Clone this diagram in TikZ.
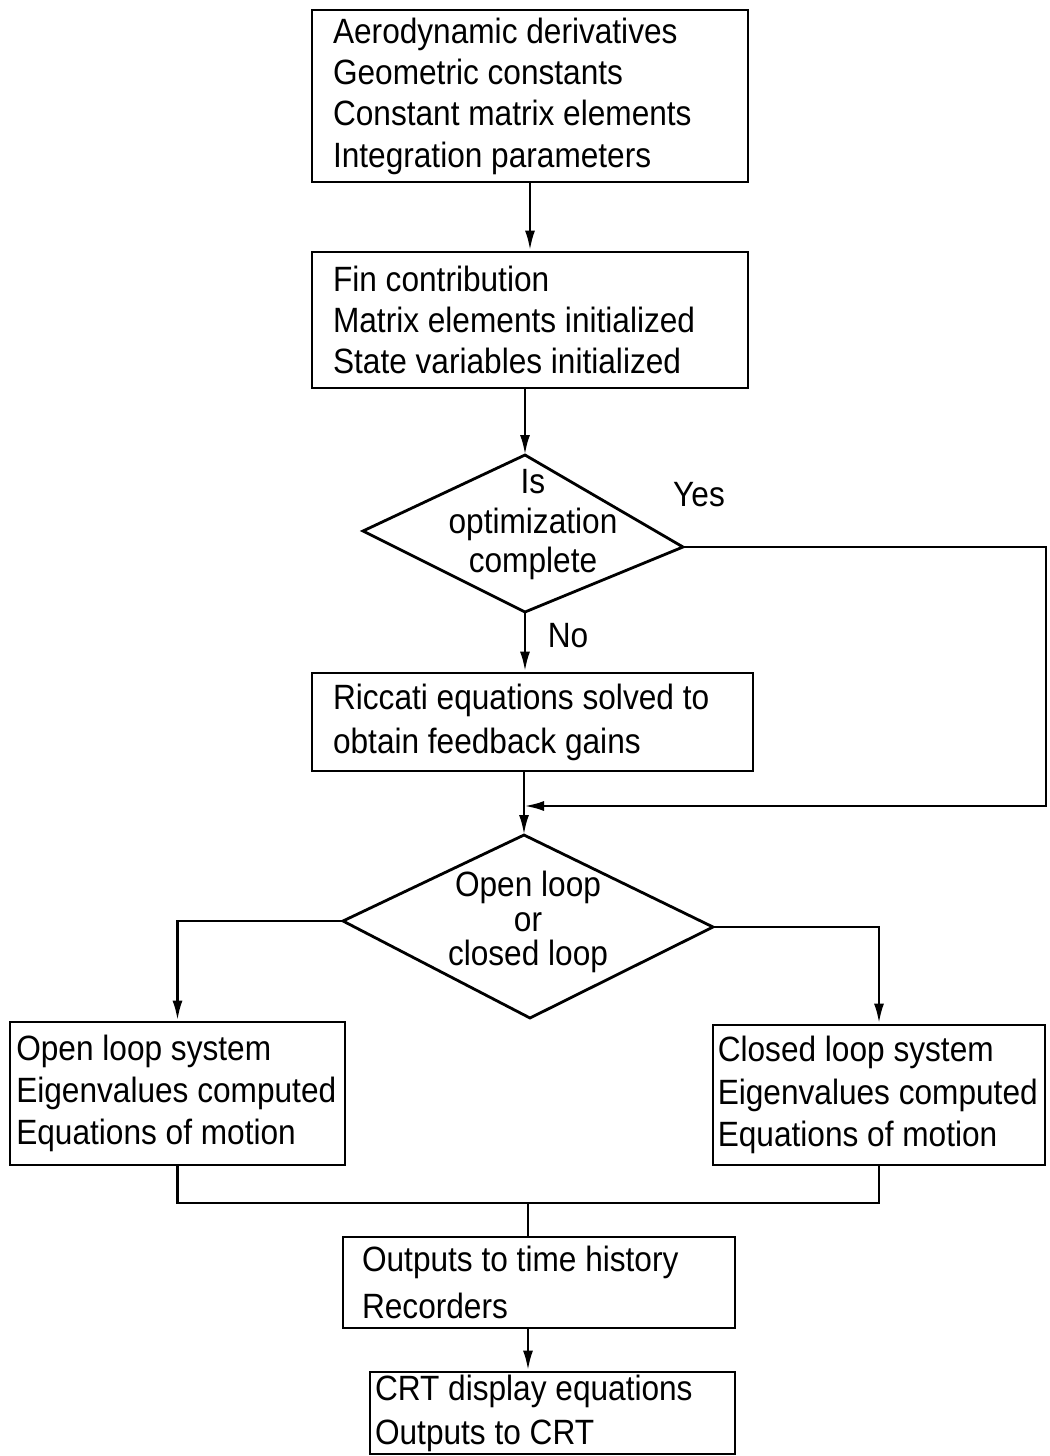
\documentclass[tikz,border=0pt]{standalone}
\usepackage{fontspec}
\setmainfont{Liberation Sans}[FakeStretch=0.9]
\usetikzlibrary{arrows.meta}
\begin{document}
\begin{tikzpicture}[x=0.02cm,y=-0.02cm,
  line width=1.6pt,
  txt/.style={font=\fontsize{20}{23.5}\selectfont},
  box/.style={draw, txt, align=flush left, inner ysep=0pt, anchor=center},
  lbl/.style={txt, inner sep=0pt},
  arr/.style={-{Latex[length=0.4cm,width=0.2cm]}}]
\useasboundingbox (0,0) rectangle (1049,1456);

% boxes
\node[box, minimum width=8.72cm, minimum height=3.44cm, text width=7.88cm] (b1) at (530,96)
  {Aerodynamic derivatives\\Geometric constants\\Constant matrix elements\\Integration parameters};
\node[box, minimum width=8.72cm, minimum height=2.72cm, text width=7.88cm] (b2) at (530,320)
  {Fin contribution\\Matrix elements initialized\\State variables initialized};
\node[box, minimum width=8.82cm, minimum height=1.96cm, text width=7.98cm,
  font=\fontsize{20}{25}\selectfont] (ric) at (532.5,722)
  {Riccati equations solved to\\obtain feedback gains};
\node[box, minimum width=6.7cm, minimum height=2.86cm, text width=6.45cm, inner xsep=0.05cm,
  font=\fontsize{20}{24}\selectfont] (ol) at (177.5,1093.5)
  {Open loop system\\Eigenvalues computed\\Equations of motion};
\node[box, minimum width=6.64cm, minimum height=2.8cm, text width=6.45cm, inner xsep=0.05cm,
  font=\fontsize{20}{24}\selectfont] (cl) at (879,1095)
  {Closed loop system\\Eigenvalues computed\\Equations of motion};
\node[box, minimum width=7.84cm, minimum height=1.82cm, text width=7.08cm,
  font=\fontsize{20}{27}\selectfont] (out) at (539,1282.5)
  {Outputs to time history\\Recorders};
\node[box, minimum width=7.3cm, minimum height=1.64cm, text width=7.1cm, inner xsep=0.05cm,
  font=\fontsize{20}{25}\selectfont] (crt) at (552.5,1413)
  {CRT display equations\\Outputs to CRT};

% decision 1
\coordinate (d1t) at (525,455);
\coordinate (d1l) at (363,531);
\coordinate (d1r) at (683,547);
\coordinate (d1b) at (525,612);
\draw (d1t) -- (d1r) -- (d1b) -- (d1l) -- cycle;
\node[lbl, align=center, font=\fontsize{20}{22.5}\selectfont] (d1txt) at (533,525)
  {Is\\optimization\\complete};

% decision 2
\coordinate (d2t) at (524,835);
\coordinate (d2l) at (343,921);
\coordinate (d2r) at (713,927);
\coordinate (d2b) at (530,1018);
\draw (d2t) -- (d2r) -- (d2b) -- (d2l) -- cycle;
\node[lbl, align=center, font=\fontsize{20}{19.5}\selectfont] (d2txt) at (528,922)
  {Open loop\\or\\closed loop};

% labels
\node[lbl] (yes) at (699,495) {Yes};
\node[lbl] (no) at (568,636) {No};

% connectors
\draw[arr] (b1.south) -- (b2.north);
\draw[arr] (d1t |- b2.south) -- (d1t);
\draw[arr] (d1b) -- (d1b |- ric.north);
\coordinate (y1) at (1046,547);
\coordinate (y2) at (1046,806);
\coordinate (m) at (524,806);
\draw[arr] (d1r) -- (y1) -- (y2) -- (m);
\draw[arr] (ric.south -| d2t) -- (d2t);
\draw[arr] (d2l) -| (ol.north);
\draw[arr] (d2r) -| (cl.north);
\coordinate (j) at (528,1203);
\draw (ol.south) |- (j) -| (cl.south);
\draw (j) -- (j |- out.north);
\draw[arr] (out.south -| j) -- (crt.north -| j);
\end{tikzpicture}
\end{document}
